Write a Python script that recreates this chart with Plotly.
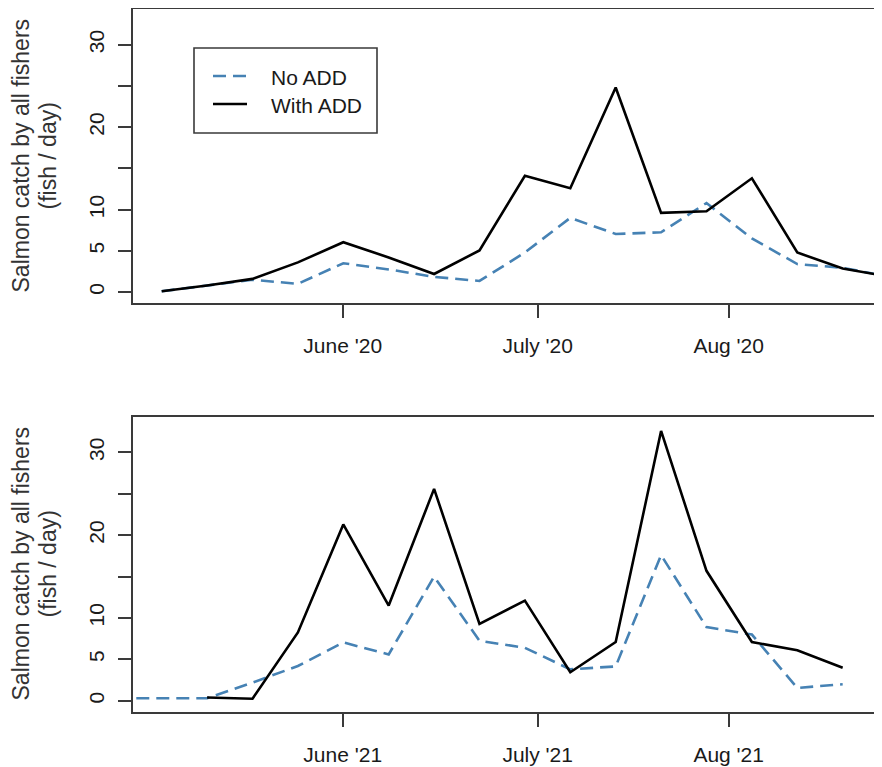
import plotly.graph_objects as go

# ---------------- data ----------------
# x = survey week index (weekly totals); month tick positions in the same units
weeks_2020 = list(range(0, 17))
no_add_2020 = [0.1, 0.8, 1.5, 1.0, 3.5, 2.75, 1.85, 1.35, 4.8, 9.0, 7.05, 7.25, 10.8, 6.5, 3.4, 2.95, 1.9]
with_add_2020 = [0.1, 0.8, 1.6, 3.6, 6.05, 4.2, 2.2, 5.05, 14.1, 12.6, 24.8, 9.6, 9.8, 13.8, 4.8, 2.85, 1.9]

weeks_2021_no = list(range(-1, 16))
no_add_2021 = [0.3, 0.3, 0.3, 2.2, 4.2, 7.05, 5.6, 15.0, 7.25, 6.4, 3.8, 4.15, 17.6, 8.9, 8.0, 1.55, 2.0]
weeks_2021_with = list(range(1, 16))
with_add_2021 = [0.4, 0.25, 8.25, 21.3, 11.5, 25.6, 9.3, 12.1, 3.45, 7.1, 32.6, 15.7, 7.1, 6.1, 4.0]

month_tick_pos = [3.987, 8.282, 12.489]
month_labels_2020 = ["June '20", "July '20", "Aug '20"]
month_labels_2021 = ["June '21", "July '21", "Aug '21"]
y_tick_vals = [0, 5, 10, 15, 20, 25, 30]
y_tick_text = ["0", "5", "10", "", "20", "", "30"]

series_names = ["No ADD", "With ADD"]
y_title_lines = ["Salmon catch by all fishers", "(fish / day)"]

# ---------------- styling ----------------
OFF = 8                      # page body margin offset
W, H = 882 - OFF, 767 - OFF
FONT = "Liberation Sans, Arial, sans-serif"
BLUE = "#4682B4"
BLACK = "#000000"
AXC = "#3a3a3a"
DASH = "13px,7px"
X_RANGE = [-0.632, 15.866]
Y_RANGE = [-1.32, 34.32]


def px(x):
    """screen x (px) -> paper x"""
    return (x - OFF) / W


def py(y):
    """screen y (px from top) -> paper y"""
    return (H - (y - OFF)) / H


fig = go.Figure()

fig.add_trace(go.Scatter(x=weeks_2020, y=no_add_2020, mode="lines", name=series_names[0],
                         line=dict(color=BLUE, width=2.6, dash=DASH),
                         xaxis="x", yaxis="y", showlegend=False))
fig.add_trace(go.Scatter(x=weeks_2020, y=with_add_2020, mode="lines", name=series_names[1],
                         line=dict(color=BLACK, width=2.6),
                         xaxis="x", yaxis="y", showlegend=False))
fig.add_trace(go.Scatter(x=weeks_2021_no, y=no_add_2021, mode="lines", name=series_names[0],
                         line=dict(color=BLUE, width=2.6, dash=DASH),
                         xaxis="x2", yaxis="y2", showlegend=False))
fig.add_trace(go.Scatter(x=weeks_2021_with, y=with_add_2021, mode="lines", name=series_names[1],
                         line=dict(color=BLACK, width=2.6),
                         xaxis="x2", yaxis="y2", showlegend=False))

x_dom = [px(133), 1.0]
common_x = dict(domain=x_dom, range=X_RANGE, tickmode="array", tickvals=month_tick_pos,
                ticks="outside", ticklen=13, tickwidth=1.5, tickcolor=AXC,
                showline=True, linecolor=AXC, linewidth=1.6, mirror=True,
                showgrid=False, zeroline=False, ticklabelstandoff=10,
                tickfont=dict(family=FONT, size=21, color="#1a1a1a"))
common_y = dict(range=Y_RANGE, tickmode="array", tickvals=y_tick_vals, ticktext=y_tick_text,
                ticks="outside", ticklen=13, tickwidth=1.5, tickcolor=AXC,
                showline=True, linecolor=AXC, linewidth=1.6, mirror=False,
                showgrid=False, zeroline=False, tickangle=-90, ticklabelstandoff=6,
                tickfont=dict(family=FONT, size=21, color="#1a1a1a"))

# legend drawn in the style of an R legend box
legend_shapes = [
    dict(type="rect", xref="paper", yref="paper",
         x0=px(194), x1=px(377), y0=py(133), y1=py(48),
         line=dict(color=AXC, width=1.6), fillcolor="rgba(0,0,0,0)"),
    dict(type="line", xref="paper", yref="paper",
         x0=px(213), x1=px(247), y0=py(76), y1=py(76),
         line=dict(color=BLUE, width=2.6, dash=DASH)),
    dict(type="line", xref="paper", yref="paper",
         x0=px(213), x1=px(247), y0=py(104), y1=py(104),
         line=dict(color=BLACK, width=2.6)),
]
legend_texts = [
    dict(text=series_names[0], xref="paper", yref="paper", x=px(269), y=py(78),
         xanchor="left", yanchor="middle", showarrow=False,
         font=dict(family=FONT, size=21, color="#1a1a1a")),
    dict(text=series_names[1], xref="paper", yref="paper", x=px(269), y=py(106),
         xanchor="left", yanchor="middle", showarrow=False,
         font=dict(family=FONT, size=21, color="#1a1a1a")),
]

title_annots = []
for yc in (156, 564):
    for line_text, xc in zip(y_title_lines, (20.5, 47.5)):
        title_annots.append(
            dict(text=line_text, xref="paper", yref="paper", x=px(xc), y=py(yc),
                 xanchor="center", yanchor="middle", showarrow=False, textangle=-90,
                 font=dict(family=FONT, size=23, color="#333333")))

fig.update_layout(
    width=W, height=H,
    margin=dict(l=0, r=0, t=0, b=0),
    paper_bgcolor="white", plot_bgcolor="white",
    font=dict(family=FONT, color="#1a1a1a"),
    xaxis=dict(common_x, anchor="y", ticktext=month_labels_2020),
    yaxis=dict(common_y, anchor="x", domain=[py(303), py(9)]),
    xaxis2=dict(common_x, anchor="y2", ticktext=month_labels_2021),
    yaxis2=dict(common_y, anchor="x2", domain=[py(711.7), py(416.7)]),
    showlegend=False,
    shapes=legend_shapes,
    annotations=title_annots + legend_texts,
)

fig.write_html("out.html")
